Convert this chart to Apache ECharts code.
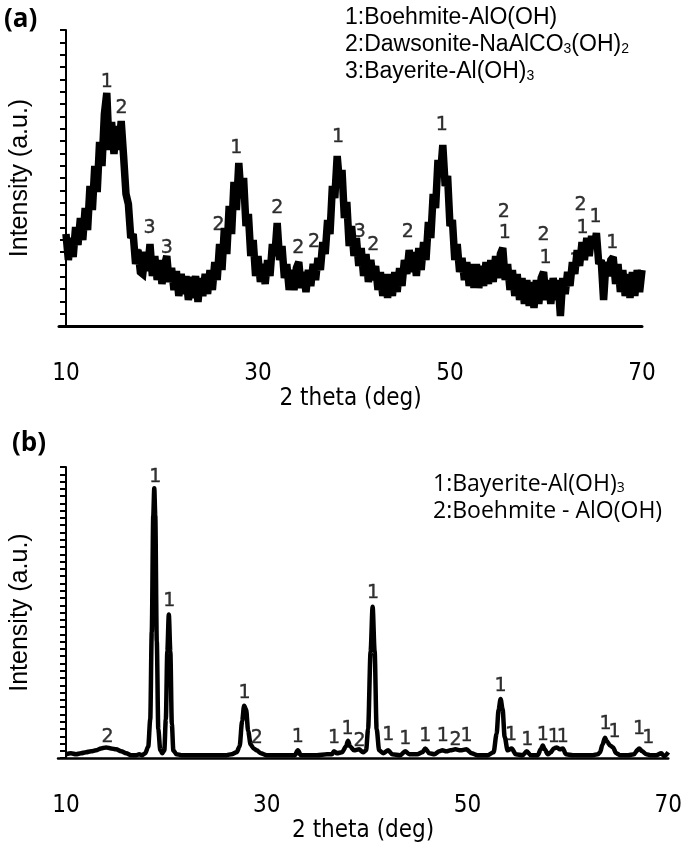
<!DOCTYPE html>
<html><head><meta charset="utf-8">
<script src="https://cdn.jsdelivr.net/npm/echarts@6/dist/echarts.min.js"></script>
<style>html,body{margin:0;padding:0;background:#fff}#chart{width:685px;height:844px}</style>
</head><body><div id="chart"></div>
<script>
// ---------- Panel (a): noisy XRD trace ----------
const topTheta = [
10,10.25,10.5,10.75,11,11.25,11.5,11.75,
12,12.25,12.5,12.75,13,13.25,13.5,13.75,
14,14.25,14.5,14.75,15,15.25,15.5,15.75,
16,16.25,16.5,16.75,17,17.25,17.5,17.75,
18,18.25,18.5,18.75,19,19.25,19.5,19.75,
20,20.25,20.5,20.75,21,21.25,21.5,21.75,
22,22.25,22.5,22.75,23,23.25,23.5,23.75,
24,24.25,24.5,24.75,25,25.25,25.5,25.75,
26,26.25,26.5,26.75,27,27.25,27.5,27.75,
28,28.25,28.5,28.75,29,29.25,29.5,29.75,
30,30.25,30.5,30.75,31,31.25,31.5,31.75,
32,32.25,32.5,32.75,33,33.25,33.5,33.75,
34,34.25,34.5,34.75,35,35.25,35.5,35.75,
36,36.25,36.5,36.75,37,37.25,37.5,37.75,
38,38.25,38.5,38.75,39,39.25,39.5,39.75,
40,40.25,40.5,40.75,41,41.25,41.5,41.75,
42,42.25,42.5,42.75,43,43.25,43.5,43.75,
44,44.25,44.5,44.75,45,45.25,45.5,45.75,
46,46.25,46.5,46.75,47,47.25,47.5,47.75,
48,48.25,48.5,48.75,49,49.25,49.5,49.75,
50,50.25,50.5,50.75,51,51.25,51.5,51.75,
52,52.25,52.5,52.75,53,53.25,53.5,53.75,
54,54.25,54.5,54.75,55,55.25,55.5,55.75,
56,56.25,56.5,56.75,57,57.25,57.5,57.75,
58,58.25,58.5,58.75,59,59.25,59.5,59.75,
60,60.25,60.5,60.75,61,61.25,61.5,61.75,
62,62.25,62.5,62.75,63,63.25,63.5,63.75,
64,64.25,64.5,64.75,65,65.25,65.5,65.75,
66,66.25,66.5,66.75,67,67.25,67.5,67.75,
68,68.25,68.5,68.75,69,69.25,69.5,69.75,
70];
const topIntensity = [
92,66,88,69,99,81,108,86,
118,96,140,116,160,134,184,160,
212,233,176,204,172,200,176,205,
170,132,122,88,92,62,76,54,
52,74,55,82,50,70,46,66,
42,60,70,44,58,36,55,30,
52,32,50,26,49,28,50,24,
48,30,52,32,56,36,64,46,
82,56,98,72,120,92,144,116,
163,128,148,100,112,70,86,50,
70,44,62,42,66,50,82,70,
103,66,80,48,62,36,56,36,
58,64,38,54,34,56,40,62,
46,68,56,84,72,106,92,140,
128,170,142,156,108,124,80,100,
70,88,60,78,50,72,44,66,
46,60,36,54,30,52,28,52,
30,54,34,58,40,66,52,76,
54,74,50,78,56,84,66,104,
88,132,118,166,150,181,140,150,
100,106,66,82,54,68,46,64,
40,62,38,62,38,60,40,64,
42,66,44,70,48,72,78,46,
62,36,56,30,52,26,48,22,
46,20,44,18,46,22,48,54,
26,46,22,48,26,46,10,48,
32,54,40,64,52,76,60,84,
66,88,70,90,78,93,62,66,
26,64,50,66,69,42,62,34,
56,30,52,28,54,30,56,34,
56];
const topLabelText  = ['1','2','3','3','2','1','2','2','2','1','3','2','2','1','2','1','2','1','2','1','1','1','1','1'];
const topLabelTheta = [14.26,15.8,18.7,20.5,25.9,27.75,32.0,34.2,35.85,38.35,40.6,42.0,45.6,49.15,55.6,55.7,59.75,59.95,63.6,63.8,65.15,66.9,63.05,17.6];
const topLabelH     = [244,218,98,78,101,178,118,78,84,189,94,81,94,201,114,93,91,68,121,98,109,83,65,68];
const topLegend = ['1:Boehmite-AlO(OH)', '2:Dawsonite-NaAlCO{s|3}(OH){s|2}', '3:Bayerite-Al(OH){s|3}'];

// ---------- Panel (b): crystalline XRD trace ----------
const botTheta = [
10,10.5,11,11.5,12,12.5,13,13.5,14,14.5,
15,15.5,16,16.5,17,17.3,17.6,17.9,18.2,18.4,
18.55,18.7,18.8,18.9,19.05,19.2,19.4,19.6,19.8,19.95,
20.1,20.25,20.4,20.55,20.7,21,21.5,22,23,24,
25,26,26.5,27,27.3,27.55,27.75,27.95,28.15,28.4,
28.7,29,29.4,30,31,32,32.8,33.1,33.4,34,
35,36,36.5,36.7,37,37.5,37.9,38.1,38.3,38.7,
39.2,39.6,39.9,40.1,40.35,40.55,40.75,40.95,41.2,41.6,
42.1,42.5,43.3,43.8,44.2,45,45.5,45.8,46.2,46.7,
47.2,47.5,47.9,48.3,48.8,49.3,49.9,50.4,51,52,
52.6,52.9,53.1,53.3,53.5,53.7,54,54.4,54.8,55.5,
55.9,56.3,57,57.3,57.5,57.7,58,58.3,58.6,58.9,
59.2,59.5,59.8,60.5,61.5,62.5,63,63.2,63.45,63.7,
63.9,64.2,64.5,64.8,65.2,66,66.6,66.9,67.1,67.4,
67.8,68.2,68.8,69.3,69.6,70];
const botIntensity = [
4,5,4,5,6,7,8,10,11,10,
9,7,5,3,3,4,3,5,12,40,
130,250,278,250,120,30,8,5,8,40,
110,148,110,35,8,4,3,3,3,3,
3,3,4,6,12,38,54,50,28,14,
10,8,5,3,3,3,3,8,3,3,
3,4,4,7,5,6,12,18,12,8,
9,6,8,30,110,156,110,30,8,5,
8,4,3,7,4,4,6,10,5,4,
7,8,7,8,9,8,9,5,3,3,
6,25,50,61,50,22,8,10,4,3,
7,3,3,9,13,9,4,6,10,11,
9,10,4,3,3,3,4,6,14,21,
17,13,11,5,3,3,4,8,10,7,
4,3,3,5,2,6];
const botLabelText  = ['2','1','1','1','2','1','1','1','2','1','1','1','1','1','2','1','1','1','1','1','1','1','1','1','1','1'];
const botLabelTheta = [14.15,18.9,20.3,27.8,29.0,33.1,36.7,38.05,39.25,40.6,42.1,43.8,45.8,47.55,48.8,49.9,53.3,54.35,55.95,57.5,58.6,59.5,63.75,64.65,67.1,68.0];
const botLabelH     = [22,290,162,67,21,22,21,30,18,170,24,20,23,23,19,23,74,24,19,24,22,22,35,27,30,21];
const botLegend = ['1:Bayerite-Al(OH){s|3}', '2:Boehmite - AlO(OH)'];

const xTicks = [10, 30, 50, 70];
const xName = '2 theta (deg)';
const yName = 'Intensity (a.u.)';

// ---------- build ----------
const pairs = (xs, ys) => xs.map((x, i) => [x, ys[i]]);
const lbl = (xs, ys, ts) => xs.map((x, i) => [x, ys[i], ts[i]]);
const narrow = "'Liberation Sans Narrow','DejaVu Sans Condensed','Liberation Sans',sans-serif";
const numFont = "'DejaVu Sans',sans-serif";

function xAxisCfg(gi, min, max) {
  return {
    gridIndex: gi, type: 'value', min: min, max: max,
    axisLine: { show: true, onZero: false, lineStyle: { color: '#000', width: gi === 0 ? 3 : 2.5 } },
    axisTick: { show: false }, splitLine: { show: false },
    axisLabel: { customValues: xTicks, margin: 36, fontSize: 24, fontFamily: narrow, color: '#000' },
    name: xName, nameLocation: 'middle', nameGap: 48,
    nameTextStyle: { fontSize: 24, fontFamily: narrow, color: '#000' }
  };
}
function yAxisCfg(gi, max, n, off) {
  return {
    gridIndex: gi, type: 'value', min: 0, max: max, interval: max / n, offset: off,
    axisLine: { show: true, lineStyle: { color: '#000', width: 2 } },
    axisTick: { show: true, inside: false, length: 6, lineStyle: { color: '#000', width: 2 } },
    axisLabel: { show: false }, splitLine: { show: false },
    name: yName, nameLocation: 'middle', nameGap: 33, nameRotate: 90,
    nameTextStyle: { fontSize: 25, fontFamily: "'Liberation Sans',Arial,sans-serif", color: '#000' }
  };
}
function labelSeries(ai, data) {
  return {
    type: 'scatter', xAxisIndex: ai, yAxisIndex: ai, data: data, symbolSize: 0, z: 2, silent: true,
    itemStyle: { color: '#000' },
    label: { show: true, position: 'inside', formatter: p => p.value[2], fontFamily: numFont, fontSize: 19,
             color: '#000', textBorderColor: '#000', textBorderWidth: 0.4 },
    emphasis: { disabled: true }
  };
}
function legendText(x, y, txt, font, size) {
  return {
    type: 'text', x: x, y: y,
    style: {
      text: txt, fill: '#000', fontFamily: font, fontSize: size, verticalAlign: 'middle',
      rich: { s: { fontFamily: font, fontSize: Math.round(size * 0.62), verticalAlign: 'bottom', lineHeight: 12, fill: '#000' } }
    }
  };
}

const chart = echarts.init(document.getElementById('chart'));
chart.setOption({
  animation: false,
  backgroundColor: '#fff',
  grid: [
    { left: 57, top: 30, width: 585, height: 296 },
    { left: 55, top: 467, width: 615, height: 299 }
  ],
  xAxis: [ xAxisCfg(0, 9.273, 70), xAxisCfg(1, 9.21, 70) ],
  yAxis: [ yAxisCfg(0, 296, 24, -7), yAxisCfg(1, 300, 40, -8) ],
  series: [
    { type: 'line', xAxisIndex: 0, yAxisIndex: 0, data: pairs(topTheta, topIntensity), showSymbol: false, z: 5,
      lineStyle: { color: '#000', width: 7.5, join: 'miter', miterLimit: 2.5 }, emphasis: { disabled: true }, silent: true },
    labelSeries(0, lbl(topLabelTheta, topLabelH, topLabelText)),
    { type: 'line', xAxisIndex: 1, yAxisIndex: 1, data: pairs(botTheta, botIntensity), showSymbol: false, z: 5,
      smooth: 0.3, smoothMonotone: 'x',
      lineStyle: { color: '#000', width: 4.5 }, emphasis: { disabled: true }, silent: true },
    labelSeries(1, lbl(botLabelTheta, botLabelH, botLabelText))
  ],
  graphic: [
    { type: 'text', x: 4, y: 20, style: { text: '(a)', fontFamily: "'Open Sans',sans-serif", fontWeight: 'bold', fontSize: 26, fill: '#000', verticalAlign: 'middle' } },
    { type: 'text', x: 12, y: 444, style: { text: '(b)', fontFamily: "'Open Sans',sans-serif", fontWeight: 'bold', fontSize: 26, fill: '#000', verticalAlign: 'middle' } },
    legendText(345, 18, topLegend[0], "'Liberation Sans',Arial,sans-serif", 23),
    legendText(345, 45, topLegend[1], "'Liberation Sans',Arial,sans-serif", 23),
    legendText(345, 72, topLegend[2], "'Liberation Sans',Arial,sans-serif", 23),
    legendText(433, 484, botLegend[0], "'Open Sans',sans-serif", 23),
    legendText(433, 511, botLegend[1], "'Open Sans',sans-serif", 23)
  ]
});
</script>
</body></html>
